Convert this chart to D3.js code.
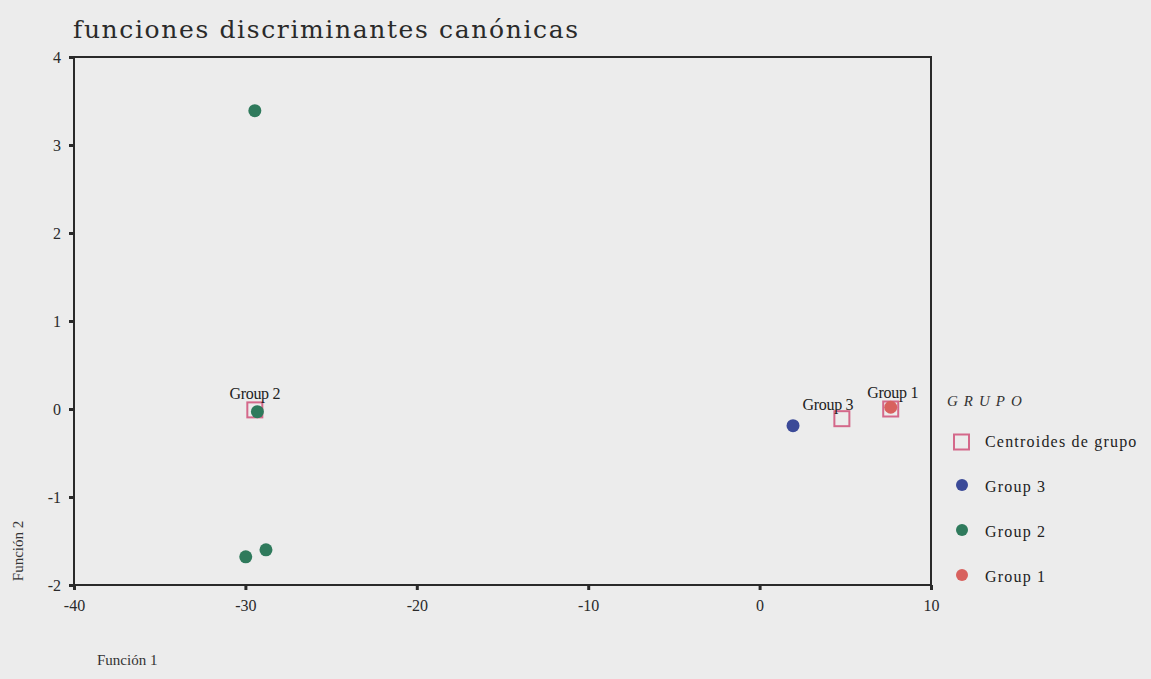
<!DOCTYPE html>
<html><head><meta charset="utf-8">
<script src="https://cdn.jsdelivr.net/npm/d3@7"></script>
<style>body{margin:0;background:#ececec;}svg{display:block;}</style>
</head><body>
<svg id="c" width="1151" height="679"></svg>
<script>
const xTicks = [-40, -30, -20, -10, 0, 10];
const yTicks = [-2, -1, 0, 1, 2, 3, 4];
const group1X = [7.65];
const group1Y = [0.02];
const group2X = [-29.45, -29.3, -29.98, -28.8];
const group2Y = [3.39, -0.03, -1.68, -1.6];
const group3X = [1.95];
const group3Y = [-0.19];
const centroidNames = ["Group 1", "Group 2", "Group 3"];
const centroidX = [7.65, -29.45, 4.8];
const centroidY = [0.0, -0.01, -0.11];
const legendLabels = ["Centroides de grupo", "Group 3", "Group 2", "Group 1"];

const svg = d3.select("#c");
const L = 74, R = 931, T = 57, B = 585;
const x = d3.scaleLinear().domain([-40, 10]).range([L, R]);
const y = d3.scaleLinear().domain([-2, 4]).range([B, T]);
const ink = "#2a2a2a";
const serif = "'Liberation Serif','DejaVu Serif',serif";
const slab = "'DejaVu Serif','Liberation Serif',serif";
const colors = {g1: "#d8615e", g2: "#2f7a5c", g3: "#3b4a98", cen: "#d4688a"};

svg.append("rect").attr("width", 1151).attr("height", 679).attr("fill", "#ececec");

svg.append("text").attr("x", 73).attr("y", 38)
  .attr("font-family", slab).attr("font-size", 25)
  .attr("textLength", 505).attr("lengthAdjust", "spacing")
  .attr("fill", "#2a2a2a").text("funciones discriminantes canónicas");

// frame
svg.append("rect").attr("x", L).attr("y", T).attr("width", R - L).attr("height", B - T)
  .attr("fill", "none").attr("stroke", ink).attr("stroke-width", 2);

const xAxis = d3.axisBottom(x).tickValues(xTicks).tickSize(5).tickFormat(d3.format("d"));
const gx = svg.append("g").attr("transform", `translate(0,${B})`).call(xAxis);
gx.select(".domain").remove();
gx.selectAll(".tick line").attr("stroke", ink).attr("stroke-width", 3);
gx.selectAll(".tick text").attr("font-family", serif).attr("font-size", 16)
  .attr("fill", "#2a2a2a").attr("dy", "1.15em").attr("y", 8)
  .text(d => d < 0 ? "-" + Math.abs(d) : d);

const yAxis = d3.axisLeft(y).tickValues(yTicks).tickSize(5).tickFormat(d3.format("d"));
const gy = svg.append("g").attr("transform", `translate(${L},0)`).call(yAxis);
gy.select(".domain").remove();
gy.selectAll(".tick line").attr("stroke", ink).attr("stroke-width", 3);
gy.selectAll(".tick text").attr("font-family", serif).attr("font-size", 16)
  .attr("fill", "#2a2a2a").attr("x", -13)
  .text(d => d < 0 ? "-" + Math.abs(d) : d);

svg.append("text").attr("x", 97).attr("y", 665).attr("font-family", serif)
  .attr("font-size", 15).attr("fill", "#333").text("Función 1");
svg.append("text").attr("transform", "translate(23,551) rotate(-90)")
  .attr("text-anchor", "middle").attr("font-family", serif)
  .attr("font-size", 15).attr("fill", "#333").text("Función 2");

// centroid squares
const cs = 15;
svg.append("g").selectAll("rect").data(centroidX).join("rect")
  .attr("x", d => x(d) - cs / 2).attr("y", (d, i) => y(centroidY[i]) - cs / 2)
  .attr("width", cs).attr("height", cs).attr("fill", "none")
  .attr("stroke", colors.cen).attr("stroke-width", 2);

function pts(xs, ys, col) {
  svg.append("g").selectAll("circle").data(xs).join("circle")
    .attr("cx", d => x(d)).attr("cy", (d, i) => y(ys[i])).attr("r", 6.5).attr("fill", col);
}
pts(group3X, group3Y, colors.g3);
pts(group2X, group2Y, colors.g2);
pts(group1X, group1Y, colors.g1);

// centroid labels
const labOff = [[2, -11], [0, -11], [-14, -9]];
svg.append("g").selectAll("text").data(centroidNames).join("text")
  .attr("x", (d, i) => x(centroidX[i]) + labOff[i][0])
  .attr("y", (d, i) => y(centroidY[i]) + labOff[i][1])
  .attr("text-anchor", "middle").attr("font-family", serif).attr("font-size", 16)
  .attr("letter-spacing", -0.3).attr("fill", "#222").text(d => d);

// legend
svg.append("text").attr("x", 947).attr("y", 406).attr("font-family", serif)
  .attr("font-size", 15).attr("letter-spacing", 6).attr("font-style", "italic")
  .attr("fill", "#333").text("GRUPO");
const ly = d3.scalePoint().domain(legendLabels).range([442, 577]);
const lg = svg.append("g");
lg.append("rect").attr("x", 954).attr("y", ly(legendLabels[0]) - 7.5)
  .attr("width", 15).attr("height", 15).attr("fill", "none")
  .attr("stroke", colors.cen).attr("stroke-width", 2);
const lcols = [null, colors.g3, colors.g2, colors.g1];
lg.selectAll("circle").data(legendLabels.slice(1)).join("circle")
  .attr("cx", 962).attr("cy", d => ly(d) - 2).attr("r", 6).attr("fill", (d, i) => lcols[i + 1]);
lg.selectAll("text").data(legendLabels).join("text")
  .attr("x", 985).attr("y", d => ly(d) + 5).attr("font-family", serif)
  .attr("font-size", 16).attr("letter-spacing", 1.2).attr("fill", "#222").text(d => d);
</script>
</body></html>
